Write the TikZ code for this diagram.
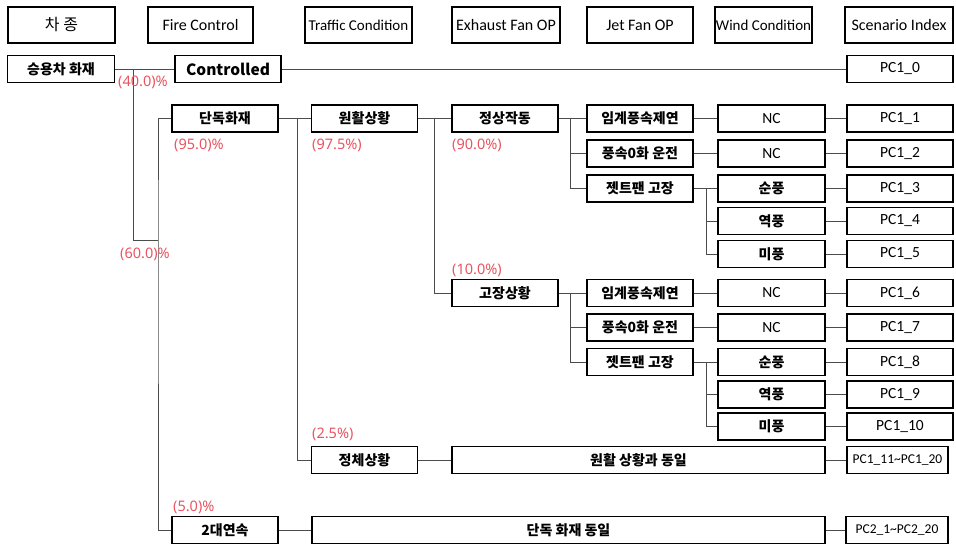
\documentclass[tikz,border=0pt]{standalone}
\usepackage{fontspec}
\setmainfont{Carlito}
\newfontfamily\kr{Noto Sans CJK KR}
\newfontfamily\pctfont{Noto Sans}
\definecolor{pctred}{RGB}{232,84,96}

\begin{document}
\begin{tikzpicture}[
            x = 1pt, y = -1pt, % pixel grid, y going down
            head/.style = {draw, line width=1.5pt, minimum width=106pt, minimum height=36pt,
                           inner sep=0pt, font=\fontsize{16}{18}\selectfont},
            box/.style = {draw, line width=1.5pt, minimum width=106pt, minimum height=27pt,
                          inner sep=0pt, font=\fontsize{15.5}{17}\selectfont},
            kor/.style = {font=\kr\bfseries\fontsize{14}{16}\selectfont},
            pct/.style = {text=pctred, anchor=west, inner sep=0pt,
                          font=\pctfont\fontsize{14.5}{16}\selectfont},
            link/.style = {line width=0.9pt, black!70}
        ]
	\useasboundingbox (0,0) rectangle (956,546);

	% header row
	\node[head, minimum width=107pt] (hcar) at (61.5,25) {\kr 차 종};
	\node[head, minimum width=105pt] (hfire) at (200.5,25) {Fire Control};
	\node[head, minimum width=107pt, font=\fontsize{15}{17}\selectfont] (htraf) at (358.5,25) {Traffic Condition};
	\node[head, minimum width=108pt] (hexh) at (506,25) {Exhaust Fan OP};
	\node[head] (hjet) at (640,25) {Jet Fan OP};
	\node[head, minimum width=97pt, font=\fontsize{15}{17}\selectfont] (hwind) at (763.5,25) {Wind Condition};
	\node[head, minimum width=108pt] (hidx) at (899,25) {Scenario Index};

	% controlled fire
	\node[box, kor, minimum width=107pt] (car) at (61,69) {승용차 화재};
	\node[box, kor, font=\kr\bfseries\fontsize{15.5}{17}\selectfont] (ctrl) at (228,69) {Controlled};
	\node[box] (pc0) at (900,69) {PC1\_0};

	% single fire, smooth traffic, normal operation
	\node[box, kor] (solo) at (225,118.5) {단독화재};
	\node[box, kor] (smooth) at (364.5,118.5) {원활상황};
	\node[box, kor] (norm) at (505,118.5) {정상작동};
	\node[box, kor] (crit1) at (640,118.5) {임계풍속제연};
	\node[box, minimum width=107pt] (nc1) at (771.5,118.5) {NC};
	\node[box] (pc1) at (900,118.5) {PC1\_1};
	\node[box, kor] (zero1) at (640,153.5) {풍속0화 운전};
	\node[box, minimum width=107pt] (nc2) at (771.5,153.5) {NC};
	\node[box] (pc2) at (900,153.5) {PC1\_2};
	\node[box, kor] (jet1) at (640,188.5) {젯트팬 고장};
	\node[box, kor, minimum width=107pt] (fw1) at (771.5,188.5) {순풍};
	\node[box] (pc3) at (900,188.5) {PC1\_3};
	\node[box, kor, minimum width=107pt] (bw1) at (771.5,221) {역풍};
	\node[box] (pc4) at (900,221) {PC1\_4};
	\node[box, kor, minimum width=107pt] (cw1) at (771.5,254) {미풍};
	\node[box] (pc5) at (900,254) {PC1\_5};

	% fan failure
	\node[box, kor] (fail) at (505,293) {고장상황};
	\node[box, kor] (crit2) at (640,293) {임계풍속제연};
	\node[box, minimum width=107pt] (nc3) at (771.5,293) {NC};
	\node[box] (pc6) at (900,293) {PC1\_6};
	\node[box, kor] (zero2) at (640,327.5) {풍속0화 운전};
	\node[box, minimum width=107pt] (nc4) at (771.5,327.5) {NC};
	\node[box] (pc7) at (900,327.5) {PC1\_7};
	\node[box, kor] (jet2) at (640,362) {젯트팬 고장};
	\node[box, kor, minimum width=107pt] (fw2) at (771.5,362) {순풍};
	\node[box] (pc8) at (900,362) {PC1\_8};
	\node[box, kor, minimum width=107pt] (bw2) at (771.5,394.5) {역풍};
	\node[box] (pc9) at (900,394.5) {PC1\_9};
	\node[box, kor, minimum width=107pt] (cw2) at (771.5,426.5) {미풍};
	\node[box] (pc10) at (900,426.5) {PC1\_10};

	% congestion and two cars
	\node[box, kor] (jam) at (364.5,460) {정체상황};
	\node[box, kor, minimum width=373pt] (same1) at (638.5,460) {원활 상황과 동일};
	\node[box, minimum width=101pt, font=\fontsize{13.5}{15}\selectfont] (pc11) at (897.5,460) {PC1\_11\textasciitilde PC1\_20};
	\node[box, kor] (two) at (225,530) {2대연속};
	\node[box, kor, minimum width=513pt] (same2) at (568.5,530) {단독 화재 동일};
	\node[box, minimum width=102pt, font=\fontsize{13.5}{15}\selectfont] (pc12) at (897,530) {PC2\_1\textasciitilde PC2\_20};

	% branch points
	\coordinate (s0) at (133,69);
	\coordinate (s1) at (158,240);
	\coordinate (s2) at (297,118.5);
	\coordinate (s3) at (434,118.5);
	\coordinate (s4) at (570,118.5);
	\coordinate (s5) at (706,188.5);
	\coordinate (s6) at (570,293);
	\coordinate (s7) at (706,362);

	\draw[link] (car) -- (ctrl) -- (pc0);
	\draw[link] (s0) |- (s1);
	\draw[link] (solo) -| (s1) |- (two);
	\draw[link] (solo) -- (smooth) -- (norm) -- (crit1) -- (nc1) -- (pc1);
	\draw[link] (s2) |- (jam);
	\draw[link] (s3) |- (fail);
	\draw[link] (s4) |- (zero1) (s4) |- (jet1);
	\draw[link] (zero1) -- (nc2) -- (pc2);
	\draw[link] (jet1) -- (fw1) -- (pc3);
	\draw[link] (s5) |- (bw1) (s5) |- (cw1);
	\draw[link] (bw1) -- (pc4);
	\draw[link] (cw1) -- (pc5);
	\draw[link] (fail) -- (crit2) -- (nc3) -- (pc6);
	\draw[link] (s6) |- (zero2) (s6) |- (jet2);
	\draw[link] (zero2) -- (nc4) -- (pc7);
	\draw[link] (jet2) -- (fw2) -- (pc8);
	\draw[link] (s7) |- (bw2) (s7) |- (cw2);
	\draw[link] (bw2) -- (pc9);
	\draw[link] (cw2) -- (pc10);
	\draw[link] (jam) -- (same1) -- (pc11);
	\draw[link] (two) -- (same2) -- (pc12);

	% shares
	\node[pct] (l40) at (118,82) {(40.0)\%};
	\node[pct] (l60) at (120,254) {(60.0)\%};
	\node[pct] (l95) at (174,145) {(95.0)\%};
	\node[pct] (l975) at (312,145) {(97.5\%)};
	\node[pct] (l90) at (452,145) {(90.0\%)};
	\node[pct] (l10) at (452,270) {(10.0\%)};
	\node[pct] (l25) at (312,434) {(2.5\%)};
	\node[pct] (l5) at (173,507) {(5.0)\%};
\end{tikzpicture}
\end{document}
